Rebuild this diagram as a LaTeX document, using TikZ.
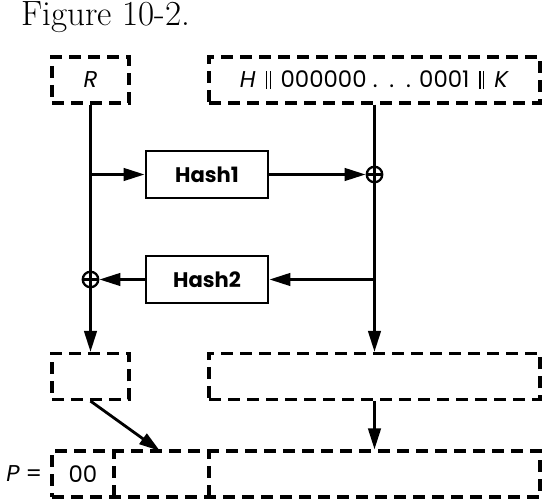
\documentclass[tikz,border=0pt]{standalone}
\usepackage{fontspec}
\setsansfont{Poppins}
\usetikzlibrary{arrows.meta,positioning}

\newcommand{\dbar}{\rule[-0.05em]{0.05em}{0.8em}\kern0.12em\rule[-0.05em]{0.05em}{0.8em}}

\begin{document}
\begin{tikzpicture}[
	>={Triangle[length=0.42cm, width=0.25cm]},
	dline/.style={line width=1.8pt, dash pattern=on 0.24cm off 0.14cm},
	dbox/.style={draw, dline, minimum height=0.92cm, inner sep=0pt, font=\sffamily\fontsize{13}{15}\selectfont},
	hashbox/.style={draw, line width=1.6pt, minimum width=2.44cm, minimum height=0.94cm, font=\sffamily\bfseries\fontsize{12}{14}\selectfont},
	xorsym/.style={draw, circle, line width=1.3pt, minimum size=0.31cm, inner sep=0pt, path picture={\draw[line width=1.3pt] (path picture bounding box.north) -- (path picture bounding box.south) (path picture bounding box.west) -- (path picture bounding box.east);}},
	conn/.style={line width=1.6pt}
	]
	\useasboundingbox (0, 0) rectangle (11.1, 10.08);
	\node[anchor = base west, font = \fontsize{20}{22}\selectfont] (title) at (0.3, 9.56) {Figure 10-2.};
	
	\node[dbox, minimum width = 1.54cm] (rin) at (1.81, 8.48) {\textit{R}};
	\node[dbox, minimum width = 6.62cm] (hin) at (7.49, 8.48) {\textit{H}\, \dbar{}\, 000000 .\, .\, . 0001\, \dbar{}\, \textit{K}};
	
	\node[hashbox] (hash1) at (4.14, 6.59) {Hash1};
	\node[hashbox] (hash2) at (4.14, 4.49) {Hash2};
	
	\node[xorsym] (xor1) at (hin.south |- hash1) {};
	\node[xorsym] (xor2) at (rin.south |- hash2) {};
	
	\node[dbox, minimum width = 1.54cm] (lowl) at (1.81, 2.55) {};
	\node[dbox, minimum width = 6.62cm] (lowr) at (7.49, 2.55) {};
	
	% P row: one box, split by two dashed lines
	\node[dbox, minimum width = 9.76cm] (pbox) at (5.92, 0.6) {};
	\draw[dline] (2.28, 0.14) -- (2.28, 1.06);
	\draw[dline] (4.18, 0.14) -- (4.18, 1.06);
	\node[font = \sffamily\fontsize{13}{15}\selectfont] (p00) at (1.66, 0.6) {00};
	\node[left = 0.04cm of pbox, font = \sffamily\fontsize{13}{15}\selectfont] (plabel) {\textit{P} =};
	\coordinate (pmid) at (3.2, 1.06);
	
	\draw[conn] (rin) -- (xor2);
	\draw[conn, ->] (xor2) -- (lowl);
	\draw[conn, ->] (rin.south |- hash1) -- (hash1);
	\draw[conn, ->] (hash1) -- (xor1);
	
	\draw[conn] (hin) -- (xor1);
	\draw[conn, ->] (xor1) -- (lowr);
	\draw[conn, ->] (hin.south |- hash2) -- (hash2);
	\draw[conn, ->] (hash2) -- (xor2);
	
	\draw[conn, ->] (lowl.south) -- (pmid);
	\draw[conn, ->] (lowr) -- (lowr |- pbox.north);
\end{tikzpicture}
\end{document}
